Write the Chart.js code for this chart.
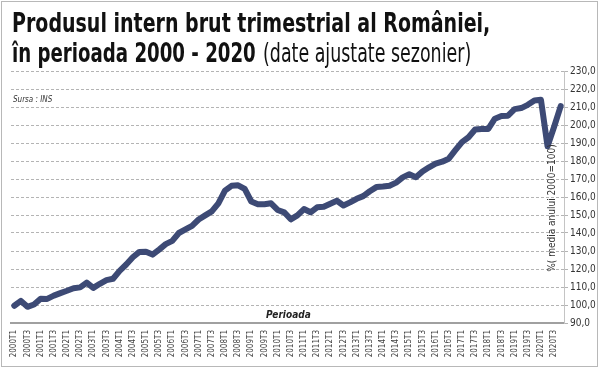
<!DOCTYPE html>
<html>
<head>
<meta charset="utf-8">
<script src="https://cdn.jsdelivr.net/npm/chart.js@4"></script>
<style>
  html, body { margin: 0; padding: 0; background: #fff; }
  #wrap { position: relative; width: 600px; height: 368px; overflow: hidden; background: #fff; }
  #frame { position: absolute; left: 1px; top: 1px; width: 597px; height: 366px; box-sizing: border-box; border: 1px solid #b8b8b8; pointer-events: none; }
  canvas { position: absolute; left: 0; top: 0; }
  .t { position: absolute; white-space: nowrap; transform-origin: 0 0; line-height: 1; color: #111;
       font-family: "Liberation Sans Narrow", "DejaVu Sans Condensed", "Arial Narrow", "Liberation Sans", sans-serif; }
  .bl { display: inline-block; width: 0; height: 0; vertical-align: baseline; }
  .big { font-size: 26px; }
  .b { font-weight: bold; }
  .r { font-weight: normal; }
  #src { font-size: 8px; font-style: italic; color: #333; }
  #per { font-size: 10px; font-style: italic; font-weight: bold; color: #222; }
  #ytitle { position: absolute; white-space: nowrap; font-size: 10px; color: #333; line-height: 1;
       font-family: "Liberation Sans Narrow", "DejaVu Sans Condensed", "Arial Narrow", "Liberation Sans", sans-serif;
       left: 552px; top: 208px; transform: translate(-50%, -50%) rotate(-90deg); }
</style>
</head>
<body>
<div id="wrap">
  <canvas id="c" width="600" height="368"></canvas>
  <div class="t big b" id="t1">Produsul intern brut trimestrial al României,<i class="bl"></i></div>
  <div class="t big b" id="t2a">în perioada 2000 - 2020<i class="bl"></i></div>
  <div class="t big r" id="t2b">(date ajustate sezonier)<i class="bl"></i></div>
  <div class="t" id="src">Sursa : INS<i class="bl"></i></div>
  <div class="t" id="per">Perioada<i class="bl"></i></div>
  <div id="ytitle">%( media anului 2000=100)</div>
  <div id="frame"></div>
</div>
<script>
// ---- data ----
const quarters = [
  '2000T1','2000T2','2000T3','2000T4','2001T1','2001T2','2001T3','2001T4',
  '2002T1','2002T2','2002T3','2002T4','2003T1','2003T2','2003T3','2003T4',
  '2004T1','2004T2','2004T3','2004T4','2005T1','2005T2','2005T3','2005T4',
  '2006T1','2006T2','2006T3','2006T4','2007T1','2007T2','2007T3','2007T4',
  '2008T1','2008T2','2008T3','2008T4','2009T1','2009T2','2009T3','2009T4',
  '2010T1','2010T2','2010T3','2010T4','2011T1','2011T2','2011T3','2011T4',
  '2012T1','2012T2','2012T3','2012T4','2013T1','2013T2','2013T3','2013T4',
  '2014T1','2014T2','2014T3','2014T4','2015T1','2015T2','2015T3','2015T4',
  '2016T1','2016T2','2016T3','2016T4','2017T1','2017T2','2017T3','2017T4',
  '2018T1','2018T2','2018T3','2018T4','2019T1','2019T2','2019T3','2019T4',
  '2020T1','2020T2','2020T3','2020T4'
];

const gdpIndex = [
  99.6, 102.3, 99.0, 100.3,
  103.5, 103.4, 105.2, 106.6,
  107.9, 109.3, 109.8, 112.4,
  109.5, 111.8, 113.8, 114.6,
  119.0, 122.5, 126.5, 129.5,
  129.6, 128.0, 130.8, 133.8,
  135.6, 140.0, 142.0, 144.0,
  147.5, 149.8, 152.0, 156.5,
  163.5, 166.2, 166.5, 164.5,
  157.5, 156.0, 156.0, 156.5,
  152.8, 151.5, 147.6, 149.8,
  153.3, 151.5, 154.3, 154.6,
  156.3, 157.9, 155.3, 157.0,
  159.0, 160.5, 163.2, 165.5,
  165.8, 166.3, 168.0, 170.9,
  172.6, 171.0, 174.2, 176.5,
  178.5, 179.6, 181.3, 186.0,
  190.5, 193.2, 197.5, 197.8,
  197.8, 203.5, 205.0, 205.2,
  208.8, 209.4, 211.2, 213.6,
  214.0, 188.2, 199.0, 210.5
];

// x tick labels shown every second quarter
const xTickLabels = quarters.filter((q, i) => i % 2 === 0);
const yAxisMin = 90;
const yAxisMax = 230;
const yAxisStep = 10;

// ---- text placement ----
function place(id, left, baseline, width) {
  const el = document.getElementById(id);
  el.style.left = left + 'px';
  el.style.top = '0px';
  el.style.transform = 'none';
  const probe = el.querySelector('.bl');
  const base = probe.offsetTop;
  const natural = el.offsetWidth;
  el.style.top = (baseline - base) + 'px';
  if (width) el.style.transform = 'scaleX(' + (width / natural) + ')';
}
function layoutText() {
  place('t1', 12, 31.7, 478);
  place('t2a', 11.5, 61.7, 244);
  place('t2b', 263, 61.7, 208);
  place('src', 13, 102);
  place('per', 266, 318);
}
layoutText();
if (document.fonts && document.fonts.ready) document.fonts.ready.then(layoutText);

// ---- chart ----
const narrow = '"Liberation Sans Narrow", "DejaVu Sans Condensed", "Arial Narrow", "Liberation Sans", sans-serif';

new Chart(document.getElementById('c'), {
  type: 'line',
  data: {
    labels: quarters,
    datasets: [{
      data: gdpIndex,
      borderColor: '#3d4a75',
      borderWidth: 6,
      pointRadius: 0,
      pointHoverRadius: 0,
      tension: 0,
      fill: false,
      borderJoinStyle: 'round',
      borderCapStyle: 'round'
    }]
  },
  options: {
    responsive: false,
    animation: false,
    devicePixelRatio: 1,
    layout: { padding: { left: 11, top: 71, right: 0, bottom: 0 } },
    plugins: { legend: { display: false }, tooltip: { enabled: false }, title: { display: false } },
    scales: {
      x: {
        type: 'category',
        offset: true,
        grid: { display: false, drawTicks: false },
        border: { display: true, color: '#a0a0a0', width: 2 },
        ticks: {
          autoSkip: false,
          minRotation: 90,
          maxRotation: 90,
          padding: 7,
          color: '#444',
          font: { family: narrow, size: 8 },
          callback: (v, i) => (i % 2 === 0 ? xTickLabels[i / 2] : '')
        },
        afterFit: s => { s.height = 45; }
      },
      y: {
        position: 'right',
        min: yAxisMin,
        max: yAxisMax,
        grid: { color: '#b4b4b4', lineWidth: 1, drawTicks: true, tickLength: 4 },
        border: { display: true, color: '#c4c4c4', width: 1, dash: [3, 2] },
        ticks: {
          stepSize: yAxisStep,
          padding: 2,
          color: '#333',
          font: { family: narrow, size: 10 },
          callback: v => Number(v).toFixed(1).replace('.', ',')
        },
        afterFit: s => { s.width = 36; }
      }
    }
  }
});
</script>
</body>
</html>
